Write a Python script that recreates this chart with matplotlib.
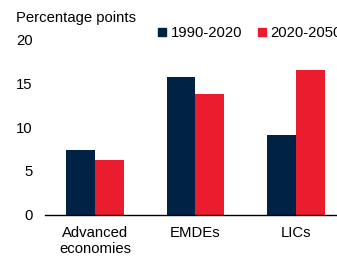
import matplotlib
matplotlib.use("Agg")
import matplotlib.pyplot as plt
import numpy as np
from matplotlib.lines import Line2D

categories = ["Advanced\neconomies", "EMDEs", "LICs"]
series_names = ["1990-2020", "2020-2050"]
v1990 = [7.4, 15.8, 9.1]
v2020 = [6.3, 13.8, 16.6]
yticks = [0, 5, 10, 15, 20]

navy = "#002244"
red = "#EB1C2E"

plt.rcParams['font.family'] = ['Liberation Sans', 'DejaVu Sans']
fs = 10.7

fig = plt.figure(figsize=(3.37, 2.56), dpi=100)
ax = fig.add_axes([45/337, 1-214.5/256, (337-45)/337*1.03, (214.5-39.9)/256])

x = np.arange(len(categories))
w = 0.288
ax.bar(x - w/2, v1990, width=w, color=navy)
ax.bar(x + w/2, v2020, width=w, color=red)

ax.set_xlim(-0.5, 2.5)
ax.set_ylim(0, 20)
ax.set_yticks(yticks)
ax.set_yticklabels([str(t) for t in yticks], fontsize=fs)
ax.set_xticks(x)
ax.set_xticklabels(categories, fontsize=fs, linespacing=1.2)
ax.tick_params(axis='y', length=0, pad=9)
ax.tick_params(axis='x', length=0, pad=8)
for s in ['top', 'right', 'left']:
    ax.spines[s].set_visible(False)
ax.spines['bottom'].set_linewidth(1.0)
ax.spines['bottom'].set_color('black')

fig.text(16/337, 1-18/256, "Percentage points", fontsize=fs, va='center', ha='left')

handles = [Line2D([], [], marker='s', linestyle='none', color=navy, markersize=6),
           Line2D([], [], marker='s', linestyle='none', color=red, markersize=6)]
fig.legend(handles, series_names, loc='center left', bbox_to_anchor=(158/337, 1-33/256),
           ncol=2, frameon=False, fontsize=fs, handlelength=0.6, handletextpad=0.25,
           columnspacing=1.05, borderaxespad=0, borderpad=0)

fig.savefig("out.png", dpi=100)
